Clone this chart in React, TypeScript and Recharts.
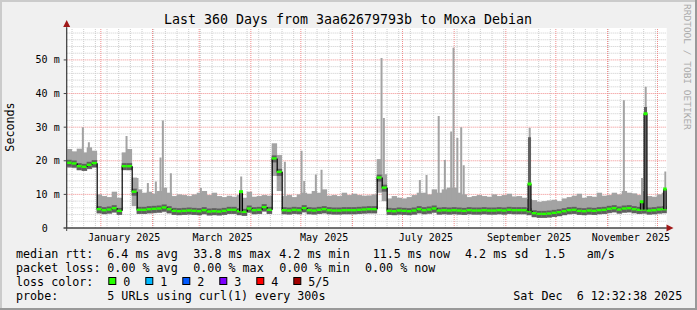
import React from 'react';
import { ComposedChart, Bar, XAxis, YAxis, CartesianGrid, ReferenceLine } from 'recharts';

const W = 697;
const H = 310;
const MONO = '"DejaVu Sans Mono", monospace';
const SMOKE = '#a3a3a3';
const SMOKE_DARK = '#5f5f5f';
const GREEN = '#26ff00';

// x is counted in days from the left edge of the graph (11 Dec 2024 12:32)
const monthStarts = [20.48, 51.48, 79.48, 110.48, 140.48, 171.48, 201.48, 232.48, 263.48, 293.48, 324.48, 354.48];
const labelDays = [34.48, 93.48, 154.48, 215.48, 277.48, 338.48];
const monthLabels = ['January 2025', 'March 2025', 'May 2025', 'July 2025', 'September 2025', 'November 2025'];
const yTicks = [0, 10, 20, 30, 40, 50];
const yTickLabels = ['0  ', '10 m', '20 m', '30 m', '40 m', '50 m'];

// 3-day buckets, values in ms
const median = [
  19.4, 19.2, 18.4, 18.2, 18.8, 19.3, 5.6, 5.3, 5.5, 5.9,
  5.1, 18.4, 18.4, 10.8, 5.4, 5.4, 5.6, 5.7, 5.8, 6.1,
  5.6, 5.1, 5.0, 5.1, 5.2, 5.1, 5.0, 5.3, 4.9, 5.0,
  4.9, 5.1, 5.4, 5.4, 5.0, 4.8, 5.8, 5.3, 5.4, 6.2,
  5.4, 20.7, 16.7, 5.3, 5.2, 5.4, 5.3, 5.9, 5.3, 5.2,
  5.4, 5.6, 5.3, 5.2, 5.2, 5.3, 5.3, 5.3, 5.4, 5.5,
  5.6, 5.6, 15.0, 12.0, 5.1, 5.0, 5.2, 5.1, 5.0, 5.2,
  5.6, 5.3, 5.5, 5.8, 5.2, 5.3, 5.2, 5.3, 5.2, 5.1,
  5.3, 5.2, 5.2, 5.3, 5.2, 5.2, 5.3, 5.2, 5.4, 5.3,
  5.3, 5.3, 5.0, 4.4, 4.2, 4.2, 4.3, 4.5, 4.7, 5.0,
  5.3, 5.4, 5.1, 5.0, 5.2, 5.1, 5.3, 5.4, 5.7, 5.9,
  5.5, 5.8, 5.9, 5.6, 5.4, 5.5, 5.2, 5.3, 5.5, 5.6,
];
const smokeTop = [
  23.5, 22.8, 23.6, 22.5, 24.0, 23.0, 10.0, 9.5, 9.2, 10.8,
  9.0, 22.5, 23.5, 15.0, 11.5, 10.5, 10.8, 10.2, 11.0, 12.0,
  10.5, 9.5, 10.0, 9.8, 9.5, 10.0, 10.5, 11.0, 9.8, 10.5,
  9.5, 9.2, 9.6, 9.3, 9.8, 9.0, 10.8, 9.3, 9.5, 9.8,
  9.6, 25.2, 21.7, 9.5, 9.8, 9.2, 10.0, 10.5, 10.2, 11.0,
  10.5, 11.5, 9.6, 9.8, 9.5, 10.5, 9.8, 10.2, 9.8, 9.6,
  9.7, 10.0, 20.5, 16.0, 8.8, 9.5, 9.0, 8.8, 9.2, 9.8,
  10.5, 10.5, 10.0, 11.5, 10.5, 11.5, 12.0, 12.0, 10.5, 10.0,
  9.2, 9.5, 9.8, 9.5, 9.3, 10.0, 9.5, 9.8, 10.2, 9.4,
  9.5, 9.0, 8.6, 8.3, 7.8, 8.0, 8.2, 8.4, 8.0, 8.8,
  9.2, 9.6, 10.2, 9.0, 9.5, 9.3, 10.5, 9.6, 9.8, 10.5,
  10.0, 11.0, 10.5, 10.3, 9.8, 11.0, 9.5, 9.3, 10.0, 10.5,
];
const smokeBottom = [
  17.9, 17.8, 17.2, 17.0, 17.5, 17.9, 4.3, 4.2, 4.3, 4.5,
  4.0, 17.3, 17.2, 6.5, 4.2, 4.2, 4.3, 4.4, 4.5, 4.7,
  4.3, 4.0, 4.0, 4.0, 4.1, 4.0, 4.0, 4.1, 3.9, 4.0,
  3.9, 4.0, 4.2, 4.2, 4.0, 3.8, 4.5, 4.1, 4.2, 4.8,
  4.2, 15.5, 11.0, 4.1, 4.1, 4.2, 4.1, 4.6, 4.1, 4.1,
  4.2, 4.3, 4.1, 4.1, 4.1, 4.1, 4.1, 4.1, 4.2, 4.3,
  4.3, 4.3, 10.5, 8.0, 4.0, 4.0, 4.0, 4.0, 4.0, 4.0,
  4.3, 4.1, 4.2, 4.5, 4.0, 4.1, 4.0, 4.1, 4.0, 4.0,
  4.1, 4.0, 4.0, 4.1, 4.0, 4.0, 4.1, 4.0, 4.2, 4.1,
  4.1, 4.1, 3.9, 3.3, 3.3, 3.3, 3.3, 3.4, 3.6, 3.9,
  4.1, 4.2, 4.0, 3.9, 4.0, 4.0, 4.1, 4.2, 4.4, 4.6,
  4.3, 4.5, 4.6, 4.4, 4.2, 4.3, 4.0, 4.1, 4.3, 4.4,
];
// narrow smoke spikes: [day, top ms]
const spikes: [number, number][] = [
  [9.8, 30.0], [13.4, 25.5], [36.0, 27.4], [42.6, 14.9], [48.8, 13.4], [53.6, 13.8],
  [56.4, 21.0], [57.8, 32.0], [62.6, 16.3], [80.6, 11.9], [131.0, 19.7], [141.0, 23.0],
  [142.6, 14.0], [149.6, 15.9], [153.0, 17.3], [189.0, 50.6], [190.4, 32.7], [212.0, 14.3],
  [216.0, 15.8], [223.3, 33.3], [227.0, 20.2], [230.8, 28.7], [232.2, 53.6], [234.5, 26.8],
  [236.8, 30.0], [238.3, 18.7], [334.4, 38.0],
];
// short median jumps: [day, median ms, dark smoke top ms, smoke top ms]
const medianSpikes: [number, number, number, number][] = [
  [104.8, 10.8, 10.8, 15.3], [277.9, 13.1, 27.0, 29.8], [345.3, 7.8, 7.8, 14.9],
  [347.5, 34.0, 36.0, 42.0], [359.3, 11.6, 11.6, 16.8],
];

const STEP = 3;
const bucketMed = (d: number) => median[Math.min(median.length - 1, Math.floor(d / STEP))];

const bandRows = median.map((m, i) => ({
  day: i * STEP + STEP / 2,
  band: [smokeBottom[i], smokeTop[i]],
  med: m,
  prev: i > 0 ? median[i - 1] : m,
}));
const spikeRows = [
  ...spikes.map(([d, t]) => ({ day: d, range: [bucketMed(d), t] })),
  ...medianSpikes.map(([d, , , t]) => ({ day: d, range: [bucketMed(d), t] })),
].sort((a, b) => a.day - b.day);
const medSpikeRows = medianSpikes.map(([d, m, dk]) => ({ day: d, range: [bucketMed(d), dk], med: m }));

const range = (a: number, b: number, s: number) => {
  const out: number[] = [];
  for (let v = a; v < b; v += s) out.push(v);
  return out;
};
const weekLines = range(3.2, 360, 7);
const minorY = range(2, 59, 2).filter((v) => v % 10 !== 0);
const majorY = [10, 20, 30, 40, 50];

const legendRows: [number, string][][] = [
  [[16, 'median rtt:'], [107.3, '6.4 ms avg'], [193.3, '33.8 ms max'], [279.3, '4.2 ms min'], [372.7, '11.5 ms now'], [465, '4.2 ms sd'], [544.3, '1.5'], [586.7, 'am/s']],
  [[16, 'packet loss:'], [107.3, '0.00 % avg'], [193.3, '0.00 % max'], [279.3, '0.00 % min'], [365, '0.00 % now']],
  [[16, 'loss color:']],
  [[16, 'probe:'], [107.3, '5 URLs using curl(1) every 300s'], [513.3, 'Sat Dec  6 12:32:38 2025']],
];
const lossColors = ['#26ff00', '#00b8ff', '#0059ff', '#7e00ff', '#ff0000', '#a10000'];
const lossLabels = ['0', '1', '2', '3', '4', '5/5'];

function BandShape(props: any) {
  const { x, y, width, height, payload } = props;
  const [lo, hi] = payload.band;
  const top = Math.min(y, y + height);
  const h = Math.abs(height);
  const k = hi > lo ? h / (hi - lo) : 0;
  const yOf = (v: number) => top + (hi - v) * k;
  const ym = yOf(payload.med);
  const yp = yOf(payload.prev);
  const w = width + 0.5;
  return (
    <g>
      <rect x={x} y={top} width={w} height={h} fill={SMOKE} />
      <rect x={x} y={ym - 3} width={w} height={7} fill={SMOKE_DARK} />
      {payload.prev !== payload.med && (
        <line x1={x + 0.5} x2={x + 0.5} y1={yp} y2={ym} stroke="#000" strokeWidth={1.2} />
      )}
      <rect x={x} y={ym - 1.2} width={w} height={2.4} fill={GREEN} />
    </g>
  );
}

function MedSpikeShape(props: any) {
  const { x, y, width, height, payload } = props;
  const [base, dk] = payload.range;
  const top = Math.min(y, y + height);
  const h = Math.abs(height);
  const k = dk > base ? h / (dk - base) : 0;
  const ym = top + (dk - payload.med) * k;
  return (
    <g>
      <rect x={x} y={top} width={width} height={h} fill={SMOKE_DARK} />
      <line x1={x} x2={x} y1={ym} y2={top + h} stroke="#000" strokeWidth={1} />
      <line x1={x + width} x2={x + width} y1={ym} y2={top + h} stroke="#000" strokeWidth={1} />
      <rect x={x - 0.5} y={ym - 1.5} width={width + 1} height={3} fill={GREEN} />
    </g>
  );
}

function YTick(props: any) {
  const { x, y, payload } = props;
  return (
    <text x={x} y={y} dy="0.355em" textAnchor="end" fontFamily={MONO} fontSize={10} fill="#000" xmlSpace="preserve" style={{ whiteSpace: 'pre' }}>
      {yTickLabels[yTicks.indexOf(payload.value)]}
    </text>
  );
}

const layerMargin = { top: 28, right: 30.3, bottom: 82, left: 66.7 };

function Layer({ data, children }: { data: any[]; children: React.ReactNode }) {
  return (
    <div style={{ position: 'absolute', left: 0, top: 0 }}>
      <ComposedChart width={W} height={H} data={data} margin={layerMargin}>
        <XAxis xAxisId={0} type="number" dataKey="day" domain={[0, 360]} hide allowDataOverflow />
        <YAxis yAxisId={0} type="number" domain={[0, 59.5]} hide allowDataOverflow />
        {children}
      </ComposedChart>
    </div>
  );
}

export default function App() {
  return (
    <div style={{ position: 'relative', width: W, height: H, background: '#f0f0f0', overflow: 'hidden' }}>
      <style>{'body{margin:0}'}</style>
      <div style={{ position: 'absolute', left: 0, top: 0 }}>
        <ComposedChart width={W} height={H} data={bandRows} margin={{ top: 28, right: 30.3, bottom: 52, left: 6.7 }}>
          <CartesianGrid horizontal={false} vertical={false} fill="#ffffff" />
          {weekLines.map((d) => (
            <ReferenceLine key={'w' + d} x={d} stroke="#cccccc" strokeDasharray="1 1" />
          ))}
          {minorY.map((v) => (
            <ReferenceLine key={'h' + v} y={v} stroke="#cccccc" strokeDasharray="1 1" />
          ))}
          {monthStarts.map((d) => (
            <ReferenceLine key={'m' + d} x={d} stroke="#f08c8c" strokeDasharray="1 1" />
          ))}
          {majorY.map((v) => (
            <ReferenceLine key={'M' + v} y={v} stroke="#f08c8c" strokeDasharray="1 1" />
          ))}
          <XAxis
            type="number"
            dataKey="day"
            domain={[0, 360]}
            ticks={labelDays}
            interval={0}
            tickFormatter={(v: number) => monthLabels[labelDays.indexOf(v)]}
            height={30}
            tickLine={false}
            tickSize={4}
            tickMargin={2}
            axisLine={{ stroke: '#444' }}
            tick={{ fontFamily: MONO, fontSize: 10, fill: '#000' }}
            allowDataOverflow
          />
          <YAxis
            type="number"
            domain={[0, 59.5]}
            ticks={yTicks}
            interval={0}
            width={60}
            tick={<YTick />}
            tickSize={3}
            tickMargin={4}
            tickLine={{ stroke: '#444' }}
            axisLine={{ stroke: '#444' }}
            allowDataOverflow
          />
        </ComposedChart>
      </div>
      <Layer data={spikeRows}>
        <Bar dataKey="range" fill={SMOKE} barSize={2} isAnimationActive={false} />
      </Layer>
      <Layer data={bandRows}>
        <Bar dataKey="band" barSize={4.9} shape={(p: any) => <BandShape {...p} />} isAnimationActive={false} />
      </Layer>
      <Layer data={medSpikeRows}>
        <Bar dataKey="range" barSize={3} shape={(p: any) => <MedSpikeShape {...p} />} isAnimationActive={false} />
      </Layer>
      <svg width={W} height={H} style={{ position: 'absolute', left: 0, top: 0, pointerEvents: 'none' }}>
        <rect x={0} y={0} width={W} height={2} fill="#cbcbcb" />
        <rect x={0} y={0} width={2} height={H} fill="#cbcbcb" />
        <rect x={0} y={H - 2} width={W} height={2} fill="#999999" />
        <rect x={W - 2} y={0} width={2} height={H} fill="#999999" />
        <line x1={66.7} x2={66.7} y1={231} y2={24} stroke="#444" />
        <line x1={63.5} x2={669} y1={228} y2={228} stroke="#444" />
        <polygon points="66.7,20 63.2,27 70.2,27" fill="#a01818" />
        <polygon points="673.5,228 666.5,224.5 666.5,231.5" fill="#a01818" />
        <text x={348} y={24} textAnchor="middle" fontFamily={MONO} fontSize={13.3} fill="#000">
          Last 360 Days from 3aa62679793b to Moxa Debian
        </text>
        <text x={14} y={127} textAnchor="middle" transform="rotate(-90 14 127)" fontFamily={MONO} fontSize={11.7} fill="#000">
          Seconds
        </text>
        <text x={684} y={4} transform="rotate(90 684 4)" fontFamily={MONO} fontSize={9.5} fill="#a8a8a8">
          RRDTOOL / TOBI OETIKER
        </text>
        {legendRows.map((row, r) =>
          row.map(([x, t]) => (
            <text key={r + '-' + x} x={x} y={257.5 + r * 14} fontFamily={MONO} fontSize={11.7} fill="#000" xmlSpace="preserve" style={{ whiteSpace: 'pre' }}>
              {t}
            </text>
          )),
        )}
        {lossColors.map((c, i) => (
          <g key={c}>
            <rect x={108.8 + i * 37} y={277.5} width={7} height={7} fill={c} stroke="#000" strokeWidth={1} />
            <text x={123.3 + i * 37} y={285.5} fontFamily={MONO} fontSize={11.7} fill="#000">
              {lossLabels[i]}
            </text>
          </g>
        ))}
      </svg>
    </div>
  );
}
